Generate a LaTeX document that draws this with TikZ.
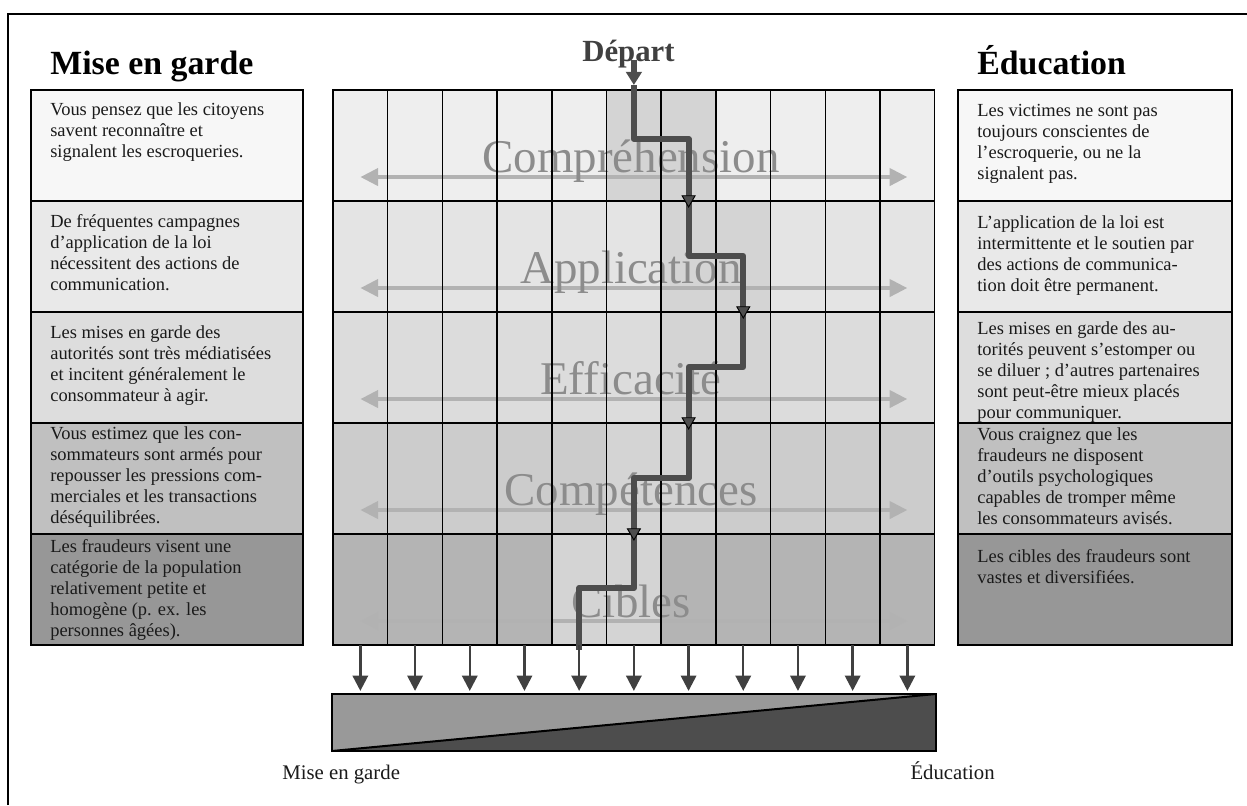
\documentclass[tikz,border=0pt]{standalone}
\usepackage{fontspec}
\setmainfont{Liberation Serif}
\usetikzlibrary{arrows.meta,shapes.geometric}
\definecolor{rowa}{HTML}{EEEEEE}
\definecolor{rowb}{HTML}{E4E4E4}
\definecolor{rowc}{HTML}{DCDCDC}
\definecolor{rowd}{HTML}{CCCCCC}
\definecolor{rowe}{HTML}{B4B4B4}
\definecolor{hl}{HTML}{D4D4D4}
\definecolor{boxa}{HTML}{F7F7F7}
\definecolor{boxb}{HTML}{E9E9E9}
\definecolor{boxc}{HTML}{DDDDDD}
\definecolor{boxd}{HTML}{C0C0C0}
\definecolor{boxe}{HTML}{979797}
\definecolor{pathgray}{HTML}{4D4D4D}
\definecolor{arrowgray}{HTML}{404040}
\definecolor{sweep}{HTML}{B2B2B2}
\definecolor{rowlabel}{HTML}{8C8C8C}
\definecolor{ink}{HTML}{1A1A1A}
\definecolor{barlight}{HTML}{999999}
\definecolor{bardark}{HTML}{4D4D4D}
\begin{document}
\begin{tikzpicture}[x=0.65pt,y=0.65pt,
  box/.style={draw=black,line width=1pt,minimum height=72.15pt,inner sep=0pt,outer sep=0pt},
  cell/.style={minimum width=35.555pt,minimum height=72.15pt,inner sep=0pt,outer sep=0pt},
  gridline/.style={draw=black,line width=1pt},
  txt/.style={anchor=north west,inner sep=0pt,align=left,text=ink,font=\fontsize{12}{13.65}\selectfont},
  head/.style={anchor=base west,inner sep=0pt,font=\fontsize{22}{26}\selectfont\bfseries},
  rowname/.style={anchor=base,inner sep=0pt,text=rowlabel,font=\fontsize{30.5}{34}\selectfont},
  sweeparrow/.style={draw=sweep,line width=2.6pt,{Triangle[length=11.5pt,width=11pt]}-{Triangle[length=11.5pt,width=11pt]}},
  trail/.style={draw=pathgray,line width=4pt,line join=round},
  tri/.style={regular polygon,regular polygon sides=3,shape border rotate=180,draw=black,fill=pathgray,line width=0.6pt,minimum size=9.75pt,inner sep=0pt},
  down/.style={draw=arrowgray,line width=1.6pt,shorten >=2pt,-{Triangle[length=10pt,width=10pt]}},
  lowlabel/.style={inner sep=0pt,text=ink,font=\fontsize{13.5}{16}\selectfont}]
\useasboundingbox (0,0) rectangle (1247,805);
\draw[line width=1.3pt] (8,0) -- (8,791) -- (1247,791);
\node[head] (warn) at (50,730) {Mise en garde};
\node[head] (edu) at (977,730) {Éducation};
\node[anchor=base,inner sep=0pt,text=arrowgray,font=\fontsize{20}{24}\selectfont\bfseries] (dep) at (628.5,743) {Départ};
\foreach[count=\k] \c/\d/\t in {
   boxa/25/{Vous pensez que les citoyens\\savent reconnaître et\\signalent les escroqueries.},
   boxb/26/{De fréquentes campagnes\\d’application de la loi\\nécessitent des actions de\\communication.},
   boxc/26/{Les mises en garde des\\autorités sont très médiatisées\\et incitent généralement le\\consommateur à agir.},
   boxd/16/{Vous estimez que les con-\\sommateurs sont armés pour\\repousser les pressions com-\\merciales et les transactions\\déséquilibrées.},
   boxe/18/{Les fraudeurs visent une\\catégorie de la population\\relativement petite et\\homogène (p. ex. les\\personnes âgées).}} {
   \node[box,fill=\c,minimum width=176.8pt] (l\k) at (167,{715-(\k-.5)*111}) {};
   \node[txt] (lt\k) at ([shift={(19,{12.6-\d})}]l\k.north west) {\t};}
\foreach[count=\k] \c/\d/\t in {
   boxa/27/{Les victimes ne sont pas\\toujours conscientes de\\l’escroquerie, ou ne la\\signalent pas.},
   boxb/27/{L’application de la loi est\\intermittente et le soutien par\\des actions de communica-\\tion doit être permanent.},
   boxc/22/{Les mises en garde des au-\\torités peuvent s’estomper ou\\se diluer ; d’autres partenaires\\sont peut-être mieux placés\\pour communiquer.},
   boxd/17/{Vous craignez que les\\fraudeurs ne disposent\\d’outils psychologiques\\capables de tromper même\\les consommateurs avisés.},
   boxe/28/{Les cibles des fraudeurs sont\\vastes et diversifiées.}} {
   \node[box,fill=\c,minimum width=178.1pt] (r\k) at (1095,{715-(\k-.5)*111}) {};
   \node[txt] (rt\k) at ([shift={(19,{12.6-\d})}]r\k.north west) {\t};}
\foreach \r/\rc/\ha/\hb in {1/rowa/6/7,2/rowb/7/8,3/rowc/7/8,4/rowd/6/7,5/rowe/5/6}
   \foreach \c in {1,...,11} {
      \def\fc{\rc}
      \ifnum\c=\ha \def\fc{hl}\fi
      \ifnum\c=\hb \def\fc{hl}\fi
      \node[cell,fill=\fc] (g\r-\c) at ({333+(\c-.5)*54.7},{715-(\r-.5)*111}) {};}
\foreach[count=\r] \v in {Compréhension,Application,Efficacité,Compétences,Cibles} {
   \draw[sweeparrow] ([yshift=-20.5pt]g\r-1.center) -- ([yshift=-20.5pt]g\r-11.center);
   \node[rowname] (n\r) at (631,{632-(\r-1)*111}) {\v};}
\foreach \r in {1,...,5}
   \foreach \c in {1,...,11}
      \draw[gridline] (g\r-\c.south west) rectangle (g\r-\c.north east);
\coordinate (p0) at (633.9,745);
\coordinate (p1) at (633.9,720);
\coordinate (b1) at (688.6,666);
\coordinate (b2) at (743.3,549);
\coordinate (b3) at (688.6,438);
\coordinate (b4) at (633.9,327);
\coordinate (b5) at (579.2,217);
\coordinate (pe) at (579.2,155);
\draw[trail,-{Triangle[length=8.5pt,width=10pt]}] (p0) -- (p1);
\draw[trail] (p1) |- (b1) |- (b2) |- (b3) |- (b4) |- (b5) -- (pe);
\foreach \x/\y [count=\k] in {688.6/604,743.3/493,688.6/382,633.9/271}
   \node[tri] (m\k) at (\x,\y+1.5) {};
\node[inner sep=0pt,outer sep=0pt,minimum width=392.6pt,minimum height=37.05pt] (bar) at (634,82.5) {};
\fill[barlight] (bar.south west) -- (bar.north west) -- (bar.north east) -- cycle;
\fill[bardark] (bar.south west) -- (bar.north east) -- (bar.south east) -- cycle;
\draw[line width=1.3pt] (bar.south west) -- (bar.north east);
\draw[line width=1pt] (bar.south west) rectangle (bar.north east);
\foreach \c in {1,...,11}
   \draw[down] (g5-\c.south) -- (g5-\c.south |- bar.north);
\node[lowlabel,anchor=base west] (lowwarn) at (282,26) {Mise en garde};
\node[lowlabel,anchor=base east] (lowedu) at (995,26) {Éducation};
\end{tikzpicture}
\end{document}
